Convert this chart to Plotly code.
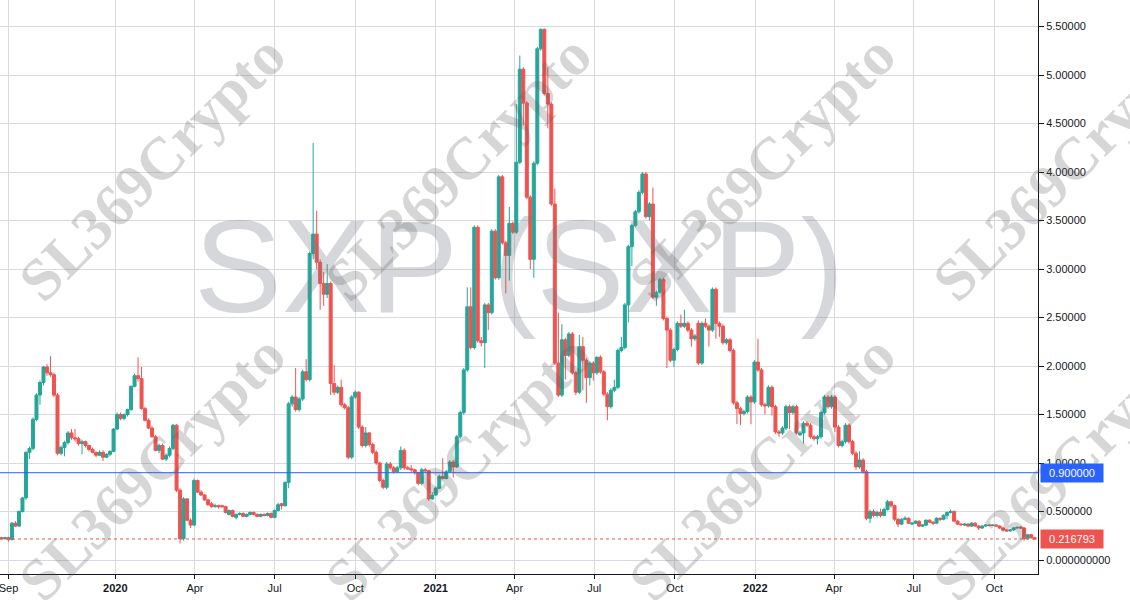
import pandas as pd
import plotly.graph_objects as go

# ---------------- data (4-day candles, SXP) ----------------
start_date = "2019-08-24"
bar_days = 4

opens = [
    .23, .22, .23, .21, .38, .35, .50, .64, 1.11, 1.15, 1.45, 1.70, 1.83, 1.99, 1.93, 1.91, 1.70, 1.10, 1.16, 1.21,
    1.31, 1.26, 1.25, 1.20, 1.22, 1.18, 1.14, 1.11, 1.08, 1.11, 1.06, 1.09, 1.12, 1.35, 1.50, 1.46, 1.50, 1.55, 1.79, 1.90,
    1.87, 1.56, 1.44, 1.36, 1.27, 1.13, 1.18, 1.04, 1.08, 1.15, 1.39, 0.72, 0.22, 0.63, 0.41, 0.36, 0.82, .70, .67, .62,
    .58, .55, .56, .56, .55, .47, .51, .44, .47, .48, .45, .47, .49, .47, .45, .47, .46, .48, .44, .51,
    .58, .56, .80, 1.61, 1.68, 1.55, 1.66, 1.94, 1.86, 3.16, 3.36, 3.07, 2.85, 2.74, 2.85, 1.82, 1.73, 1.78, 1.60, 1.57,
    1.06, 1.68, 1.73, 1.37, 1.18, 1.31, 1.19, 1.11, 1.00, 0.82, 0.75, 0.99, 0.95, 0.91, 0.95, 1.13, 0.95, 0.94, 0.93, 0.90,
    0.79, 0.93, 0.92, 0.63, 0.67, 0.74, 0.86, 0.84, 0.91, 1.01, 0.96, 1.27, 1.52, 1.96, 2.61, 2.19, 3.43, 2.26, 2.24, 2.63,
    2.55, 3.39, 2.91, 3.95, 3.27, 3.14, 3.47, 3.38, 4.10, 5.06, 4.71, 3.74, 3.10, 4.09, 5.27, 5.47, 4.81, 4.70, 3.67, 2.03,
    1.70, 2.27, 2.11, 2.33, 1.93, 1.73, 2.20, 2.06, 1.88, 2.03, 1.93, 2.09, 1.94, 1.71, 1.58, 1.75, 1.78, 2.16, 2.19, 2.63,
    3.23, 3.45, 3.59, 3.79, 3.98, 3.54, 3.67, 2.71, 2.76, 2.89, 2.49, 2.37, 2.06, 2.17, 2.44, 2.41, 2.44, 2.37, 2.28, 2.44,
    2.03, 2.44, 2.41, 2.37, 2.79, 2.44, 2.41, 2.24, 2.27, 2.16, 1.62, 1.56, 1.51, 1.53, 1.68, 1.63, 2.04, 1.96, 1.60, 1.59,
    1.78, 1.58, 1.32, 1.31, 1.36, 1.58, 1.52, 1.58, 1.29, 1.31, 1.41, 1.39, 1.27, 1.25, 1.27, 1.52, 1.68, 1.58, 1.68, 1.37,
    1.18, 1.22, 1.39, 1.22, 1.10, 0.96, 1.03, 0.91, 0.43, 0.50, 0.46, 0.49, 0.46, 0.52, 0.60, 0.56, 0.42, 0.37, 0.42, 0.43,
    0.37, 0.38, 0.40, 0.35, 0.36, 0.41, 0.39, 0.38, 0.43, 0.42, 0.46, 0.49, 0.50, 0.40, 0.37, 0.36, 0.37, 0.35, 0.38, 0.35,
    0.33, 0.35, 0.36, 0.355, 0.36, 0.35, 0.33, 0.31, 0.30, 0.31, 0.33, 0.34, 0.33, 0.22, 0.26, 0.23,
]
highs = [
    .24, .24, .24, .39, .40, .51, .65, 1.12, 1.17, 1.47, 1.72, 1.85, 2.00, 2.02, 2.10, 1.93, 1.72, 1.18, 1.23, 1.33,
    1.35, 1.35, 1.27, 1.24, 1.23, 1.19, 1.16, 1.12, 1.13, 1.13, 1.10, 1.13, 1.36, 1.52, 1.52, 1.51, 1.56, 1.80, 1.92, 2.09,
    1.99, 1.58, 1.46, 1.38, 1.29, 1.20, 1.20, 1.10, 1.17, 1.40, 1.40, 0.74, 0.65, 0.64, 0.43, 0.84, 0.83, .72, .68, .63,
    .60, .58, .57, .57, .56, .52, .52, .48, .49, .49, .48, .50, .50, .48, .48, .48, .49, .49, .52, .59,
    .59, .81, 1.63, 1.70, 1.98, 1.68, 1.96, 2.07, 3.18, 4.30, 3.60, 3.10, 2.97, 3.05, 2.87, 2.01, 1.80, 1.86, 1.62, 1.59,
    1.70, 1.75, 1.74, 1.39, 1.37, 1.32, 1.21, 1.13, 1.01, 0.84, 1.01, 1.01, 0.97, 0.97, 1.17, 1.15, 0.97, 0.98, 0.94, 0.91,
    0.95, 0.95, 0.93, 0.70, 0.76, 0.88, 1.05, 0.93, 1.03, 1.03, 1.29, 1.54, 1.98, 2.81, 2.81, 3.45, 3.45, 2.30, 2.65, 2.65,
    3.41, 3.41, 3.97, 3.97, 3.29, 3.64, 3.49, 4.70, 5.20, 5.08, 4.73, 3.76, 4.11, 5.29, 5.48, 5.48, 5.08, 4.72, 3.83, 2.55,
    2.43, 2.29, 2.35, 2.35, 1.95, 2.32, 2.30, 2.08, 2.05, 2.05, 2.10, 2.11, 1.96, 1.73, 1.77, 1.86, 2.18, 2.30, 2.65, 3.25,
    3.47, 3.61, 3.81, 4.00, 4.00, 3.69, 3.84, 2.78, 2.91, 2.91, 2.51, 2.39, 2.19, 2.46, 2.53, 2.58, 2.46, 2.39, 2.33, 2.47,
    2.46, 2.49, 2.43, 2.81, 2.81, 2.46, 2.43, 2.29, 2.29, 2.18, 1.64, 1.58, 1.55, 1.70, 1.70, 2.06, 2.28, 1.98, 1.62, 1.80,
    1.80, 1.60, 1.34, 1.38, 1.60, 1.60, 1.60, 1.60, 1.33, 1.43, 1.43, 1.41, 1.29, 1.29, 1.54, 1.70, 1.70, 1.70, 1.70, 1.39,
    1.24, 1.41, 1.41, 1.24, 1.12, 1.12, 1.05, 0.93, 0.52, 0.52, 0.51, 0.53, 0.54, 0.62, 0.61, 0.57, 0.43, 0.43, 0.45, 0.44,
    0.39, 0.41, 0.41, 0.37, 0.42, 0.42, 0.40, 0.44, 0.44, 0.47, 0.50, 0.52, 0.51, 0.41, 0.38, 0.38, 0.38, 0.39, 0.39, 0.36,
    0.36, 0.37, 0.37, 0.37, 0.37, 0.36, 0.34, 0.32, 0.32, 0.34, 0.35, 0.35, 0.34, 0.27, 0.27, 0.24,
]
lows = [
    .21, .21, .19, .20, .34, .34, .49, .62, 1.04, 1.13, 1.43, 1.60, 1.80, 1.90, 1.89, 1.68, 1.08, 1.08, 1.07, 1.19,
    1.24, 1.22, 1.18, 1.09, 1.16, 1.12, 1.10, 1.06, 1.07, 1.02, 1.05, 1.07, 1.11, 1.34, 1.44, 1.44, 1.48, 1.54, 1.78, 1.84,
    1.55, 1.43, 1.35, 1.26, 1.12, 1.10, 1.03, 1.02, 1.06, 1.13, 0.70, 0.17, 0.20, 0.40, 0.33, 0.35, 0.69, .66, .61, .56,
    .54, .54, .53, .54, .48, .46, .44, .42, .46, .44, .44, .46, .46, .44, .44, .45, .45, .43, .43, .50,
    .52, .55, .74, 1.58, 1.53, 1.53, 1.64, 1.84, 1.84, 3.10, 3.00, 2.58, 2.62, 2.70, 1.70, 1.70, 1.71, 1.58, 1.55, 1.04,
    1.04, 1.66, 1.35, 1.16, 1.16, 1.17, 1.09, 0.98, 0.80, 0.73, 0.73, 0.93, 0.89, 0.90, 0.93, 0.93, 0.93, 0.91, 0.88, 0.77,
    0.77, 0.90, 0.61, 0.62, 0.66, 0.73, 0.83, 0.83, 0.90, 0.85, 0.95, 1.25, 1.50, 1.94, 2.17, 2.17, 2.24, 2.20, 1.98, 2.37,
    2.53, 2.89, 2.89, 3.25, 2.75, 2.88, 3.36, 3.36, 4.08, 4.48, 3.72, 3.00, 2.91, 4.07, 5.25, 4.79, 4.45, 3.65, 2.01, 1.68,
    1.68, 1.86, 2.09, 1.91, 1.70, 1.71, 1.75, 1.62, 1.80, 1.85, 1.91, 1.92, 1.69, 1.44, 1.56, 1.73, 1.76, 2.14, 2.17, 2.45,
    3.03, 3.43, 3.57, 3.77, 3.52, 3.50, 2.69, 2.62, 2.74, 2.47, 1.98, 2.04, 1.99, 2.15, 2.39, 2.39, 2.35, 2.20, 2.26, 2.01,
    2.01, 2.39, 2.20, 2.35, 2.28, 2.30, 2.22, 2.22, 2.14, 1.60, 1.40, 1.39, 1.49, 1.51, 1.40, 1.61, 1.94, 1.58, 1.50, 1.57,
    1.49, 1.30, 1.27, 1.29, 1.34, 1.35, 1.50, 1.29, 1.28, 1.20, 1.37, 1.25, 1.23, 1.19, 1.25, 1.50, 1.56, 1.56, 1.32, 1.16,
    1.16, 1.20, 1.20, 1.08, 0.93, 0.94, 0.89, 0.41, 0.38, 0.44, 0.44, 0.44, 0.45, 0.51, 0.54, 0.40, 0.34, 0.36, 0.41, 0.37,
    0.36, 0.37, 0.34, 0.34, 0.35, 0.38, 0.36, 0.37, 0.40, 0.41, 0.42, 0.48, 0.39, 0.36, 0.35, 0.35, 0.34, 0.34, 0.34, 0.31,
    0.32, 0.34, 0.35, 0.35, 0.34, 0.32, 0.30, 0.29, 0.29, 0.30, 0.32, 0.32, 0.20, 0.21, 0.22, 0.21,
]
closes = [
    .22, .23, .21, .38, .35, .50, .64, 1.11, 1.15, 1.45, 1.70, 1.83, 1.99, 1.93, 1.91, 1.70, 1.10, 1.16, 1.21, 1.31,
    1.26, 1.25, 1.20, 1.22, 1.18, 1.14, 1.11, 1.08, 1.11, 1.06, 1.09, 1.12, 1.35, 1.50, 1.46, 1.50, 1.55, 1.79, 1.90, 1.87,
    1.56, 1.44, 1.36, 1.27, 1.13, 1.18, 1.04, 1.08, 1.15, 1.39, 0.72, 0.22, 0.63, 0.41, 0.36, 0.82, 0.70, .67, .62, .57,
    .55, .56, .55, .55, .49, .51, .45, .47, .48, .45, .47, .49, .47, .45, .47, .46, .48, .44, .51, .57,
    .56, .80, 1.61, 1.68, 1.55, 1.66, 1.94, 1.86, 3.16, 3.36, 3.07, 2.85, 2.74, 2.85, 1.82, 1.73, 1.78, 1.60, 1.57, 1.06,
    1.68, 1.73, 1.37, 1.18, 1.31, 1.19, 1.11, 1.00, 0.82, 0.75, 0.99, 0.95, 0.91, 0.95, 1.13, 0.95, 0.94, 0.93, 0.90, 0.79,
    0.93, 0.92, 0.63, 0.67, 0.74, 0.86, 0.84, 0.91, 1.01, 0.96, 1.27, 1.52, 1.96, 2.61, 2.19, 3.43, 2.26, 2.24, 2.63, 2.55,
    3.39, 2.91, 3.95, 3.27, 3.14, 3.47, 3.38, 4.10, 5.06, 4.71, 3.74, 3.10, 4.09, 5.27, 5.47, 4.81, 4.70, 3.67, 2.03, 1.70,
    2.27, 2.11, 2.33, 1.93, 1.73, 2.20, 2.06, 1.88, 2.03, 1.93, 2.09, 1.94, 1.71, 1.58, 1.75, 1.78, 2.16, 2.19, 2.63, 3.23,
    3.45, 3.59, 3.79, 3.98, 3.54, 3.67, 2.71, 2.76, 2.89, 2.49, 2.37, 2.06, 2.17, 2.44, 2.41, 2.44, 2.37, 2.28, 2.31, 2.03,
    2.44, 2.41, 2.37, 2.79, 2.44, 2.41, 2.24, 2.27, 2.16, 1.62, 1.56, 1.51, 1.53, 1.68, 1.63, 2.04, 1.96, 1.60, 1.59, 1.78,
    1.58, 1.32, 1.31, 1.36, 1.58, 1.52, 1.58, 1.31, 1.31, 1.41, 1.39, 1.27, 1.25, 1.27, 1.52, 1.68, 1.58, 1.68, 1.37, 1.18,
    1.22, 1.39, 1.22, 1.10, 0.96, 1.03, 0.91, 0.43, 0.50, 0.46, 0.49, 0.46, 0.52, 0.60, 0.56, 0.42, 0.37, 0.42, 0.43, 0.38,
    0.38, 0.40, 0.35, 0.36, 0.41, 0.39, 0.38, 0.43, 0.42, 0.46, 0.49, 0.50, 0.40, 0.37, 0.365, 0.37, 0.35, 0.38, 0.35, 0.33,
    0.35, 0.36, 0.355, 0.36, 0.35, 0.33, 0.31, 0.30, 0.31, 0.33, 0.335, 0.33, 0.22, 0.26, 0.23, 0.216793,
]

tick_dates = ["2019-09-01", "2020-01-01", "2020-04-01", "2020-07-01", "2020-10-01", "2021-01-01",
              "2021-04-01", "2021-07-01", "2021-10-01", "2022-01-01", "2022-04-01", "2022-07-01", "2022-10-01"]
tick_labels = ["Sep", "<b>2020</b>", "Apr", "Jul", "Oct", "<b>2021</b>",
               "Apr", "Jul", "Oct", "<b>2022</b>", "Apr", "Jul", "Oct"]
y_ticks = [0.0, 0.5, 1.0, 1.5, 2.0, 2.5, 3.0, 3.5, 4.0, 4.5, 5.0, 5.5]
y_tick_labels = ["0.000000000", "0.500000", "1.00000", "1.50000", "2.00000", "2.50000",
                 "3.00000", "3.50000", "4.00000", "4.50000", "5.00000", "5.50000"]
ref_level = 0.9
ref_label = "0.900000"
last_price = 0.216793
last_label = "0.216793"
title_watermark = "SXP (SXP)"
brand_watermark = "SL369Crypto"

# ---------------- figure ----------------
UP, DOWN = "#26a69a", "#ef5350"
dates = pd.date_range(start_date, periods=len(closes), freq=f"{bar_days}D")

fig = go.Figure()
fig.add_trace(go.Candlestick(
    x=dates, open=opens, high=highs, low=lows, close=closes,
    increasing=dict(line=dict(color=UP, width=1), fillcolor=UP),
    decreasing=dict(line=dict(color=DOWN, width=1), fillcolor=DOWN),
    whiskerwidth=0, showlegend=False, hoverinfo="x+y",
))

W, H = 1130, 600
ML, MR, MT, MB = 0, 92, 0, 26
pw, ph = W - ML - MR, H - MT - MB

annotations = []
# big symbol watermark
annotations.append(dict(
    text=title_watermark, xref="paper", yref="paper", x=0.5, y=0.535,
    xanchor="center", yanchor="middle", showarrow=False,
    font=dict(family="Liberation Sans, Arial", size=132, color="rgba(120,123,134,0.30)"),
))
# repeated diagonal brand watermark
for cx in (152, 458, 762, 1066):
    for cy in (168, 468):
        annotations.append(dict(
            text=f"<b>{brand_watermark}</b>", xref="paper", yref="paper",
            x=cx / pw, y=1 - cy / ph, xanchor="center", yanchor="middle",
            showarrow=False, textangle=-45,
            font=dict(family="Liberation Serif, Times New Roman", size=60,
                      color="rgba(90,90,90,0.25)"),
        ))
# price labels on the right scale
for lvl, lab, col in ((ref_level, ref_label, "#2962ff"), (last_price, last_label, DOWN)):
    annotations.append(dict(
        text=lab, xref="paper", yref="y", x=1 + 1.5 / pw, y=lvl,
        xanchor="left", yanchor="middle", showarrow=False,
        bgcolor=col, width=62, height=18, borderpad=0, align="center",
        font=dict(family="Liberation Sans, Arial", size=11, color="white"),
    ))

shapes = [
    dict(type="line", xref="paper", yref="y", x0=0, x1=1, y0=ref_level, y1=ref_level,
         line=dict(color="#2962ff", width=1)),
    dict(type="line", xref="paper", yref="y", x0=0, x1=1, y0=last_price, y1=last_price,
         line=dict(color=DOWN, width=1, dash="dot")),
]

px_per_unit = 97.0
y_top = 560 / px_per_unit
y_bot = -(ph - 560) / px_per_unit

fig.update_layout(
    width=W, height=H,
    margin=dict(l=ML, r=MR, t=MT, b=MB, pad=0),
    paper_bgcolor="white", plot_bgcolor="white",
    boxgap=0.15, boxgroupgap=0,
    showlegend=False,
    annotations=annotations, shapes=shapes,
    font=dict(family="Liberation Sans, Arial", size=11, color="#131722"),
    xaxis=dict(
        type="date", range=["2019-08-22 08:00", "2022-11-19 20:00"],
        rangeslider=dict(visible=False),
        tickmode="array", tickvals=tick_dates, ticktext=tick_labels,
        showgrid=True, gridcolor="#d9dadd", gridwidth=1,
        showline=True, linecolor="#131722", linewidth=1,
        ticks="outside", ticklen=4, tickcolor="#131722",
        ticklabeloverflow="allow", zeroline=False,
        tickfont=dict(size=11, color="#131722"),
    ),
    yaxis=dict(
        side="right", range=[y_bot, y_top],
        tickmode="array", tickvals=y_ticks, ticktext=y_tick_labels,
        showgrid=True, gridcolor="#d9dadd", gridwidth=1,
        showline=True, linecolor="#131722", linewidth=1,
        ticks="outside", ticklen=5, tickcolor="#131722",
        zeroline=False, tickfont=dict(size=11, color="#131722"),
    ),
)

fig.write_html(
    "out.html",
    config={"displayModeBar": False},
    post_script="document.body.style.margin='0';document.body.style.overflow='hidden';",
)
